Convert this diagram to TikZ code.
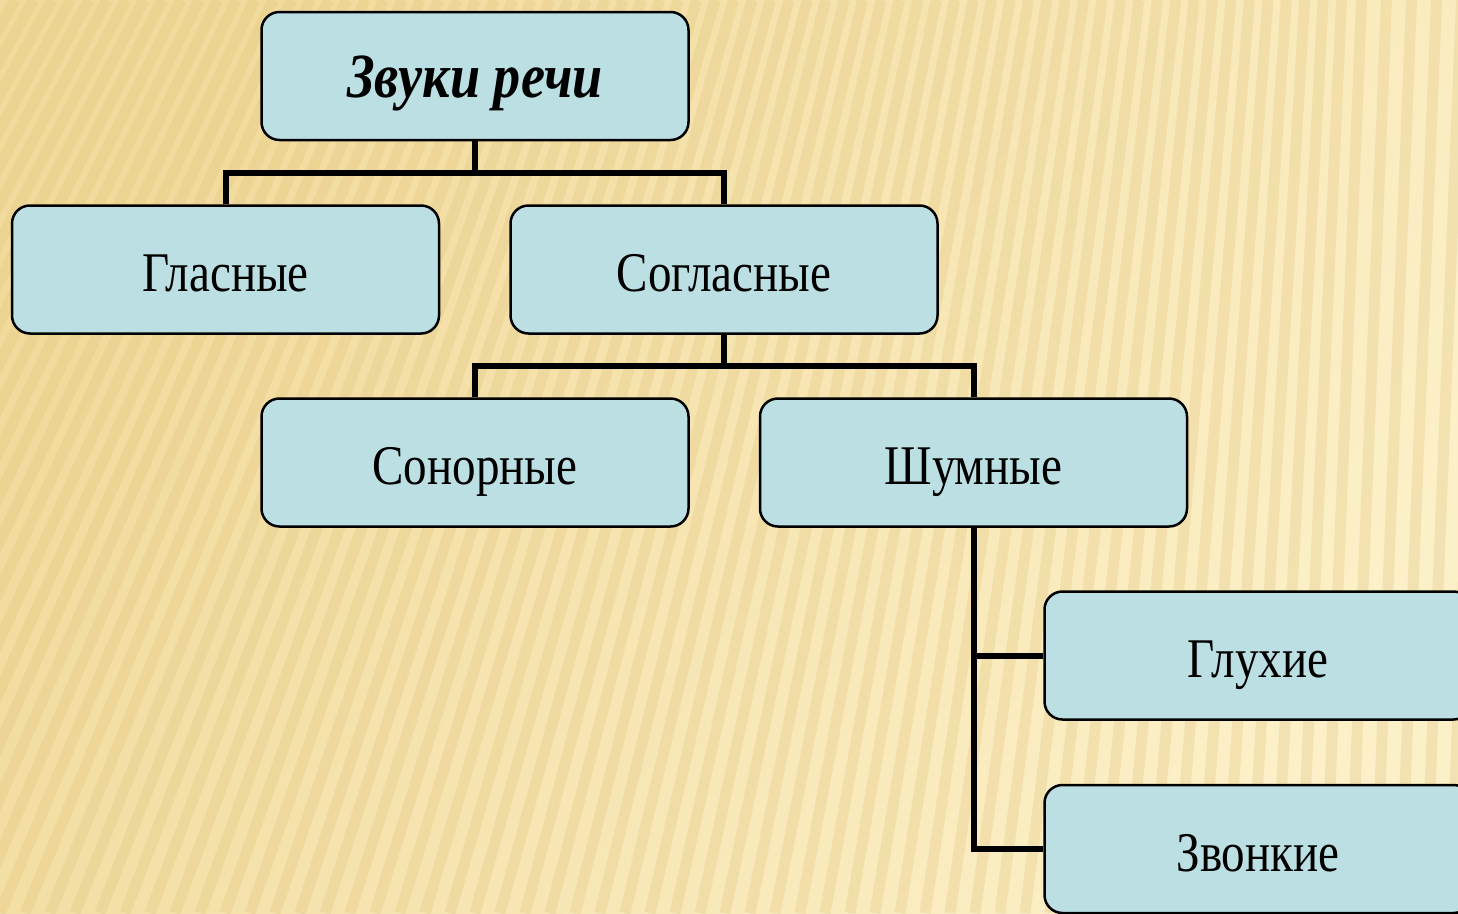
\documentclass[tikz,border=0pt]{standalone}
\usepackage{fontspec}
\setmainfont[FakeStretch=0.84]{Liberation Serif}
\newfontfamily\titlefont[FakeStretch=0.86]{Liberation Serif}
\usetikzlibrary{calc}
\definecolor{bgA}{HTML}{F1DA9C}
\definecolor{bgB}{HTML}{FCF0C8}
\definecolor{stripe}{HTML}{E0C47E}
\definecolor{boxfill}{HTML}{BCDFE3}
\tikzset{
  box/.style={draw=black, line width=2.5pt, fill=boxfill, rounded corners=18pt,
    minimum width=427pt, minimum height=128pt, inner sep=0pt,
    text height=44pt, text depth=0pt,
    font=\fontsize{56}{56}\selectfont},
  conn/.style={draw=black, line width=6pt, line join=miter},
}
\begin{document}
\begin{tikzpicture}[x=1pt,y=-1pt]
\useasboundingbox (0,0) rectangle (1458,913);
\begin{scope}
\clip (0,0) rectangle (1458,913);
\shade[left color=bgA, right color=bgB, shading angle=60] (0,0) rectangle (1458,913);
\foreach \i in {-20,...,62}{
  \pgfmathsetmacro{\bx}{\i*25}
  \pgfmathsetmacro{\r}{max(0.04,0.42*(1-\bx/1458))}
  \pgfmathsetmacro{\tx}{\bx+\r*913}
  \draw[stripe, line width=11pt, opacity=0.3] (\bx,913) -- (\tx,0);
}
\end{scope}

\node[box, text height=42pt, font=\titlefont\fontsize{63}{63}\selectfont] (zr) at (475,76) {\textbf{\textit{Звуки речи}}};
\node[box] (gl)  at (225.5,269.5) {Гласные};
\node[box] (sg)  at (724,269.5) {Согласные};
\node[box] (son) at (475,462.5) {Сонорные};
\node[box] (sh)  at (973.5,462.5) {Шумные};
\node[box] (glu) at (1258,655.5) {Глухие};
\node[box] (zv)  at (1258,849)   {Звонкие};

\coordinate (b1) at ($(zr.south)!0.5!(sg.north)$);
\coordinate (b2) at ($(sg.south)!0.5!(sh.north)$);
\draw[conn] (zr.south) -- (zr.south |- b1);
\draw[conn] (gl.north) |- (b1) -| (sg.north);
\draw[conn] (sg.south) -- (sg.south |- b2);
\draw[conn] (son.north) |- (b2) -| (sh.north);
\draw[conn] (sh.south) -- (sh.south |- zv.west) -- (zv.west);
\draw[conn] (sh.south |- glu.west) -- (glu.west);
\end{tikzpicture}
\end{document}
